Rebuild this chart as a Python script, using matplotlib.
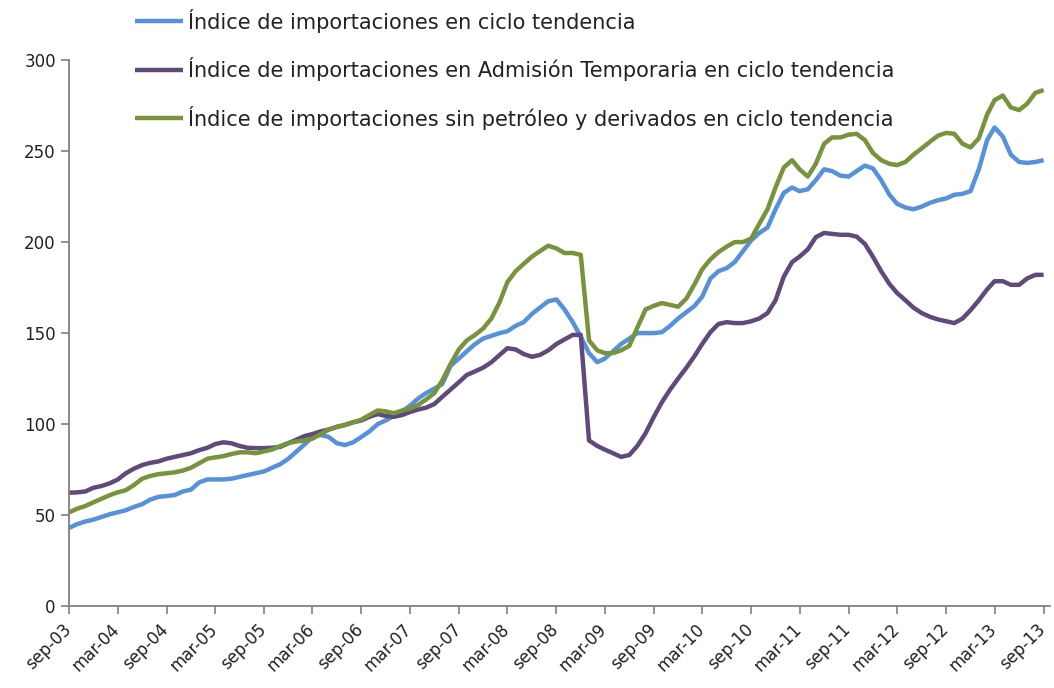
import matplotlib
matplotlib.use("Agg")
import matplotlib.pyplot as plt
import matplotlib.transforms as mtransforms
import pandas as pd


START = "2003-09-01"
END_TICK = "2013-09-01"
MONTHS_ES = ["ene", "feb", "mar", "abr", "may", "jun",
             "jul", "ago", "sep", "oct", "nov", "dic"]

LABELS = [
    "Índice de importaciones en ciclo tendencia",
    "Índice de importaciones en Admisión Temporaria en ciclo tendencia",
    "Índice de importaciones sin petróleo y derivados en ciclo tendencia",
]

# monthly values, sep-03 .. sep-13
total = [
    43, 45, 46.5, 47.5, 49, 50.5, 51.5, 52.7, 54.5, 56, 58.5, 60,
    60.5, 61, 63, 64, 68, 69.6, 69.6, 69.6, 70, 71, 72, 73,
    74, 76, 78, 81, 85, 89, 93, 94, 93, 89.5, 88.5, 90,
    93, 96, 100, 102, 104.5, 107, 110, 114, 117, 119.5, 122, 132,
    136, 140, 144, 147, 148.5, 150, 151, 154, 156, 160.5, 164, 167.5,
    168.5, 163, 156, 148, 139, 134, 136, 140, 144, 147, 150, 150,
    150, 150.5, 154, 158, 161.5, 165, 170, 180, 184, 185.7, 189, 195,
    201, 205, 208, 218, 227, 230, 228, 229, 234, 240, 239, 236.5,
    236, 239, 242, 240.5, 234, 226, 221, 219, 218, 219.5, 221.5, 223,
    224, 226, 226.5, 228, 240, 256, 263, 258, 248, 244, 243.5, 244,
    245,
]

temporaria = [
    62.3, 62.5, 63, 65, 66, 67.5, 69.5, 73, 75.5, 77.5, 78.7, 79.5,
    81, 82, 83, 84, 85.7, 87, 89, 90, 89.5, 88, 87, 86.8,
    86.8, 87, 87.5, 89.5, 91.5, 93.5, 94.5, 96, 97, 98.5, 99.5, 101,
    102, 104, 105.5, 104.5, 104, 105, 106.6, 108, 109, 111, 115, 119,
    123, 127, 129, 131, 134, 138, 141.7, 141, 138.5, 137, 138, 140.5,
    144, 146.5, 149, 149, 91, 88, 86, 84, 82, 83, 88, 95,
    104, 112, 119, 125, 131, 137.5, 144, 150.5, 155, 156, 155.5, 155.5,
    156.5, 158, 161, 168, 181, 189, 192, 196, 202.7, 205, 204.5, 204,
    204, 203, 199, 192, 184, 177, 172, 168, 164, 161, 159, 157.5,
    156.5, 155.5, 158, 162.6, 168, 174, 178.5, 178.5, 176.5, 176.5, 180, 182,
    182,
]

sin_petroleo = [
    51.5, 53.5, 55, 57, 59, 61, 62.5, 63.7, 66.5, 70, 71.5, 72.5,
    73, 73.5, 74.5, 76, 78.5, 81, 81.7, 82.4, 83.5, 84.5, 84.5, 84,
    85, 86, 88, 89.6, 90.5, 91, 92, 94.5, 97, 98.5, 99.5, 101,
    102.5, 105, 107.5, 107, 106, 107.5, 108.5, 110.5, 113.5, 117, 124, 133,
    141, 146, 149, 152.5, 158, 167, 178, 184, 188, 192, 195, 198,
    196.5, 194, 194, 193, 146, 140.5, 139, 139, 140.5, 143, 153, 163,
    165, 166.5, 165.5, 164.5, 169, 177, 185, 190.5, 194.5, 197.5, 200, 200,
    202, 210, 218, 230, 241, 245, 240, 236, 243, 254, 257.5, 257.5,
    259, 259.5, 256, 249, 245, 243, 242.3, 244, 248, 251.5, 255, 258.5,
    260, 259.5, 254, 252, 257, 270, 278, 280.5, 274, 272.5, 276, 282,
    283.5,
]

COLORS = ["#5592DB", "#604A7B", "#77933C"]


def main():
    dates = pd.date_range(START, periods=len(total), freq="MS")
    tick_dates = pd.date_range(START, END_TICK, freq="6MS")
    tick_labels = [f"{MONTHS_ES[d.month - 1]}-{d.strftime('%y')}" for d in tick_dates]

    fig = plt.figure(figsize=(10.54, 6.88), dpi=100)
    ax = fig.add_axes([0.0655, 0.119, 0.9305, 0.7937])

    for values, label, color in zip([total, temporaria, sin_petroleo], LABELS, COLORS):
        ax.plot(dates, values, color=color, linewidth=3.2, label=label,
                solid_joinstyle="round", solid_capstyle="butt")

    ax.set_ylim(0, 300)
    ax.set_yticks(range(0, 301, 50))
    ax.set_xlim(pd.Timestamp(START), pd.Timestamp("2013-09-24"))
    ax.set_xticks(tick_dates)

    for side in ["top", "right"]:
        ax.spines[side].set_visible(False)
    for side in ["left", "bottom"]:
        ax.spines[side].set_color("#808080")
        ax.spines[side].set_linewidth(1.3)

    ax.tick_params(axis="both", direction="out", length=6, width=1.2,
                   color="#808080", labelsize=12, labelcolor="#222222")
    ax.tick_params(axis="x", pad=4)
    ax.set_xticklabels(tick_labels, rotation=45, ha="right", rotation_mode="anchor")

    # nudge the rotated date labels a little to the left, as in the original
    shift = mtransforms.ScaledTranslation(-7 / 100, 0, fig.dpi_scale_trans)
    for lbl in ax.get_xticklabels():
        lbl.set_transform(lbl.get_transform() + shift)

    fig.legend(loc="upper left", bbox_to_anchor=(0.1222, 0.9967), frameon=False,
               fontsize=15, labelspacing=1.18, handlelength=2.3,
               handletextpad=0.25, borderpad=0.3, borderaxespad=0,
               labelcolor="#222222")

    fig.savefig("out.png", dpi=100)
    plt.close(fig)


if __name__ == "__main__":
    main()
